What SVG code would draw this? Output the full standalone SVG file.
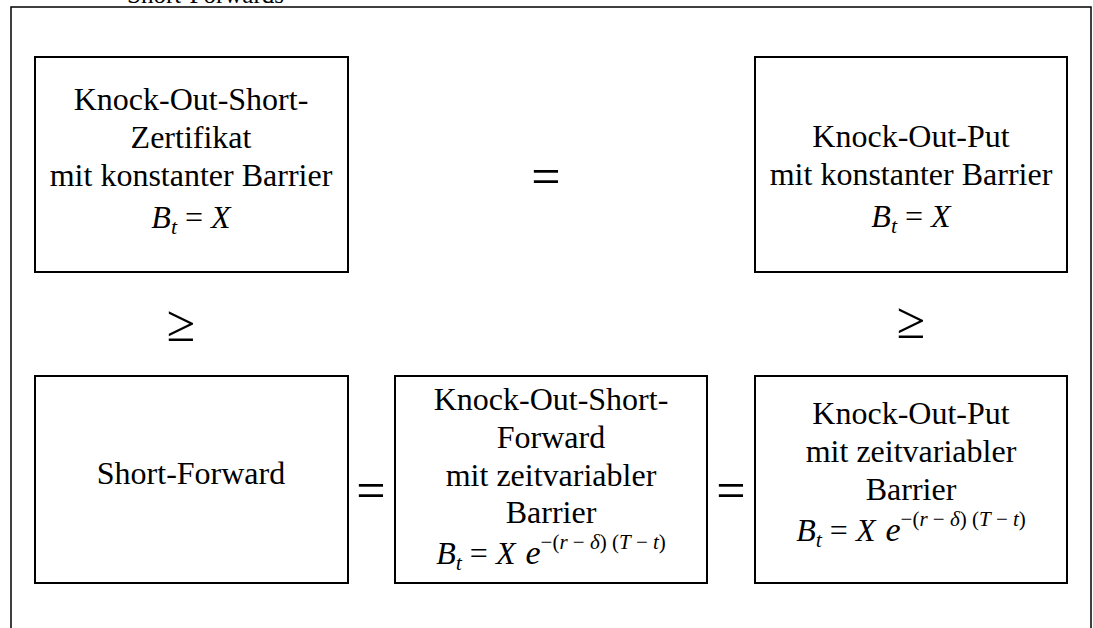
<svg xmlns="http://www.w3.org/2000/svg" width="1093" height="628" viewBox="0 0 1093 628">
<style>
.box{fill:#fff;stroke:#000;stroke-width:2}
.frame{fill:#fff;stroke:#000;stroke-width:1.5}
.t{font-family:"Liberation Serif","Times New Roman",serif;font-size:32px;fill:#000;text-anchor:middle}
.i{font-style:italic}
.sub{font-style:italic;font-size:22px}
.sup{font-size:21px}
.e{font-style:italic;font-size:34px}
.op{font-family:"Liberation Serif","Times New Roman",serif;font-size:52px;fill:#000;text-anchor:middle}
</style>
<rect class="frame" x="11" y="7" width="1080" height="640"/>
<text x="127" y="3" font-family="Liberation Serif, serif" font-size="25">Short-Forwards</text>

<g id="ko-short-zert">
<rect class="box" x="35" y="57" width="313" height="215"/>
<text class="t" x="191" y="110">Knock-Out-Short-</text>
<text class="t" x="191" y="148">Zertifikat</text>
<text class="t" x="191" y="186">mit konstanter Barrier</text>
<text class="t" x="191" y="228"><tspan class="i">B</tspan><tspan class="sub" dy="6">t</tspan><tspan dy="-6"> = </tspan><tspan class="i">X</tspan></text>
</g>

<g id="ko-put-const">
<rect class="box" x="755" y="57" width="312" height="215"/>
<text class="t" x="911" y="147">Knock-Out-Put</text>
<text class="t" x="911" y="185">mit konstanter Barrier</text>
<text class="t" x="911" y="227"><tspan class="i">B</tspan><tspan class="sub" dy="6">t</tspan><tspan dy="-6"> = </tspan><tspan class="i">X</tspan></text>
</g>

<g id="short-forward">
<rect class="box" x="35" y="376" width="313" height="207"/>
<text class="t" x="191" y="484">Short-Forward</text>
</g>

<g id="ko-short-forward">
<rect class="box" x="395" y="376" width="312" height="207"/>
<text class="t" x="551" y="410">Knock-Out-Short-</text>
<text class="t" x="551" y="448">Forward</text>
<text class="t" x="551" y="486">mit zeitvariabler</text>
<text class="t" x="551" y="523">Barrier</text>
<text class="t" x="551" y="564"><tspan class="i">B</tspan><tspan class="sub" dy="6">t</tspan><tspan dy="-6"> = </tspan><tspan class="i">X</tspan><tspan class="e" dx="10">e</tspan><tspan class="sup" dy="-15">−(<tspan class="i">r</tspan> − <tspan class="i">δ</tspan>) (<tspan class="i">T</tspan> − <tspan class="i">t</tspan>)</tspan></text>
</g>

<g id="ko-put-var">
<rect class="box" x="755" y="376" width="312" height="207"/>
<text class="t" x="911" y="424">Knock-Out-Put</text>
<text class="t" x="911" y="462">mit zeitvariabler</text>
<text class="t" x="911" y="500">Barrier</text>
<text class="t" x="911" y="541"><tspan class="i">B</tspan><tspan class="sub" dy="6">t</tspan><tspan dy="-6"> = </tspan><tspan class="i">X</tspan><tspan class="e" dx="10">e</tspan><tspan class="sup" dy="-15">−(<tspan class="i">r</tspan> − <tspan class="i">δ</tspan>) (<tspan class="i">T</tspan> − <tspan class="i">t</tspan>)</tspan></text>
</g>

<g id="connectors">
<text class="op" x="546" y="194">=</text>
<text class="op" x="181" y="341">≥</text>
<text class="op" x="911" y="338">≥</text>
<text class="op" x="371" y="508">=</text>
<text class="op" x="731" y="508">=</text>
</g>
</svg>
